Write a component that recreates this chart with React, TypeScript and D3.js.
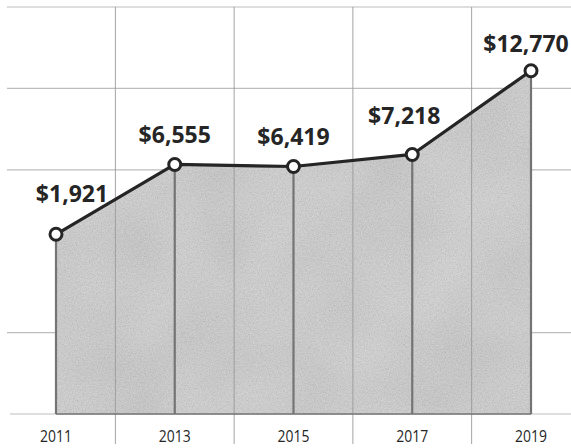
import React from 'react';
import * as d3 from 'd3';

const years = [2011, 2013, 2015, 2017, 2019];
const values = [1921, 6555, 6419, 7218, 12770];
const gridYears = [2012, 2014, 2016, 2018];
const gridValues = [-4600, 6200, 11600, 17000];
const yMin = -10000;
const yMax = 17000;

// label layout (offset from point: dx, dy to baseline)
const labelShift: [number, number][] = [
  [16, -32],
  [0, -21],
  [0, -21],
  [-8, -30],
  [-5, -19],
];

const W = 571;
const H = 448;

export default function App() {
  const x = d3.scaleLinear().domain([2011, 2019]).range([56, 531]);
  const y = d3.scaleLinear().domain([yMin, yMax]).range([414, 7]);
  const fmt = d3.format('$,');
  const data = years.map((yr, i) => ({ yr, v: values[i] }));

  const area = d3
    .area<{ yr: number; v: number }>()
    .x((d) => x(d.yr))
    .y0(y(yMin))
    .y1((d) => y(d.v))(data) as string;
  const line = d3
    .line<{ yr: number; v: number }>()
    .x((d) => x(d.yr))
    .y((d) => y(d.v))(data) as string;

  const ink = '#252525';
  const grid = '#bdbdbd';

  return (
    <svg
      width={W}
      height={H}
      style={{ position: 'absolute', left: 0, top: 0, background: '#fff' }}
      fontFamily="'Open Sans', sans-serif"
    >
      <defs>
        <clipPath id="areaClip">
          <path d={area} />
        </clipPath>
        <filter id="grain" x="0" y="0" width="100%" height="100%">
          <feTurbulence type="fractalNoise" baseFrequency="0.75" numOctaves="2" seed="4" result="n" />
          <feColorMatrix type="saturate" values="0" in="n" result="g" />
          <feComponentTransfer in="g">
            <feFuncA type="table" tableValues="0.3 0.3" />
          </feComponentTransfer>
        </filter>
        <filter id="blob" x="0" y="0" width="100%" height="100%">
          <feTurbulence type="fractalNoise" baseFrequency="0.012" numOctaves="2" seed="9" result="n" />
          <feColorMatrix type="saturate" values="0" in="n" result="g" />
          <feComponentTransfer in="g">
            <feFuncA type="table" tableValues="0.2 0.2" />
          </feComponentTransfer>
        </filter>
      </defs>

      {/* horizontal grid */}
      {gridValues.map((v) => (
        <line key={v} x1={7} x2={W} y1={y(v)} y2={y(v)} stroke={grid} strokeWidth={1.2} />
      ))}
      <line x1={10} x2={W} y1={y(yMin)} y2={y(yMin)} stroke={grid} strokeWidth={1.2} />

      {/* area */}
      <path d={area} fill="#d3d3d3" />
      <g clipPath="url(#areaClip)">
        <rect x={0} y={0} width={W} height={H} filter="url(#blob)" />
        <rect x={0} y={0} width={W} height={H} filter="url(#grain)" />
      </g>

      {/* vertical grid between years */}
      {gridYears.map((g) => (
        <line key={g} x1={x(g)} x2={x(g)} y1={y(yMax)} y2={444} stroke="#9a9a9a" strokeWidth={0.9} />
      ))}

      {/* drop lines at data points */}
      {data.map((d) => (
        <line
          key={d.yr}
          x1={x(d.yr)}
          x2={x(d.yr)}
          y1={y(d.v)}
          y2={y(yMin)}
          stroke="#747474"
          strokeWidth={2.2}
        />
      ))}
      <line x1={x(2011)} x2={x(2019)} y1={y(yMin)} y2={y(yMin)} stroke="#747474" strokeWidth={1.5} />

      {/* line + markers */}
      <path d={line} fill="none" stroke={ink} strokeWidth={3.2} strokeLinejoin="round" />
      {data.map((d) => (
        <circle key={d.yr} cx={x(d.yr)} cy={y(d.v)} r={6} fill="#fff" stroke={ink} strokeWidth={3} />
      ))}

      {/* value labels */}
      {data.map((d, i) => (
        <text
          key={d.yr}
          x={x(d.yr) + labelShift[i][0]}
          y={y(d.v) + labelShift[i][1]}
          textAnchor="middle"
          fontSize={23}
          fontWeight={700}
          fill={ink}
        >
          {fmt(d.v)}
        </text>
      ))}

      {/* year labels */}
      {data.map((d) => (
        <text
          key={d.yr}
          transform={`translate(${x(d.yr)},442) scale(0.82,1)`}
          textAnchor="middle"
          fontSize={17}
          fontWeight={500}
          fill={ink}
        >
          {String(d.yr)}
        </text>
      ))}
    </svg>
  );
}
